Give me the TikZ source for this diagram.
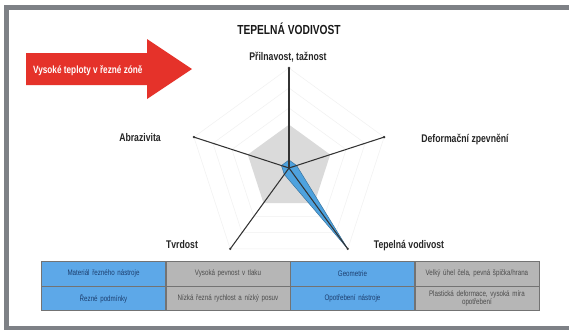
\documentclass[tikz,border=0pt]{standalone}
\usepackage{fontspec}
\setmainfont{Liberation Sans}[FakeStretch=0.78]
\usepackage{tikz}
\usetikzlibrary{calc,positioning}
\definecolor{framegray}{HTML}{7E8186}
\definecolor{arrowred}{HTML}{E5322A}
\definecolor{cellblue}{HTML}{5DA8E8}
\definecolor{cellgray}{HTML}{B6B6B6}
\definecolor{polygray}{HTML}{DADADA}
\definecolor{radarblue}{HTML}{4EA2DE}
\definecolor{celltext}{HTML}{1D3E6E}
\tikzset{
  radar schemes/.style = {
    x = 0.03cm, y = -0.03cm,
    % Popisky os
    axlabel/.style  = {font=\fontsize{9.5}{10}\selectfont\bfseries, text=black!85, inner sep=0pt},
    % Bunky tabulky
    cell/.style     = {draw=black!55, line width=0.4pt, minimum width=3.72cm,
                       minimum height=0.735cm, text width=3.5cm, align=center,
                       inner sep=0pt, font=\fontsize{6.8}{7}\selectfont},
    bcell/.style    = {cell, fill=cellblue, text=celltext},
    gcell/.style    = {cell, fill=cellgray, text=black!70},
    % Cary
    axis line/.style = {line width=0.9pt, black!80},
    grid line/.style = {line width=0.4pt, black!6},
    frame line/.style = {line width=0.15cm, framegray},
  }
}
\begin{document}
\begin{tikzpicture}[radar schemes]
\useasboundingbox (0,0) rectangle (569,329);
\fill[white] (0,0) rectangle (569,329);
\draw[frame line] (569,7.5) -- (6.5,7.5) -- (6.5,328.5) -- (569,328.5);

\node[font=\fontsize{11.2}{12}\selectfont\bfseries, text=black!90] (title) at (289,29) {TEPELNÁ VODIVOST};

%---------------------------------------------
% Sipka
\fill[arrowred] (26,53) -- (147,53) -- (147,39) -- (192,69) -- (147,99) -- (147,85) -- (26,85) -- cycle;
\node[font=\fontsize{9}{10}\selectfont\bfseries, text=white, anchor=west] (hot) at (29,71) {Vysoké teploty v řezné zóně};

%---------------------------------------------
% Paprskovy graf
\coordinate (c) at (289,168);
\foreach \i/\a in {0/90,1/18,2/-54,3/-126,4/162}
   \coordinate (ax-\i) at ($(c)+(\a:3cm)$);

\foreach \r in {0.2,0.4,0.6,0.8,1.0}
   \draw[grid line] ($(c)+(90:\r*3cm)$) -- ($(c)+(18:\r*3cm)$) -- ($(c)+(-54:\r*3cm)$)
        -- ($(c)+(-126:\r*3cm)$) -- ($(c)+(162:\r*3cm)$) -- cycle;

\fill[polygray] ($(c)+(90:1.3cm)$) -- ($(c)+(18:1.3cm)$) -- ($(c)+(-54:1.3cm)$)
     -- ($(c)+(-126:1.3cm)$) -- ($(c)+(162:1.3cm)$) -- cycle;

\filldraw[fill=radarblue, draw=radarblue!70!black, line width=0.4pt]
     ($(c)+(90:0.24cm)$) -- ($(c)+(18:0.24cm)$) -- (ax-2)
     -- ($(c)+(-126:0.24cm)$) -- ($(c)+(162:0.24cm)$) -- cycle;

\foreach \i in {0,...,4} {
   \draw[axis line] (c) -- (ax-\i);
   \fill[black!80] (ax-\i) circle (1.1pt);
 }

\node[axlabel] (l-0) at (288,57)  {Přilnavost, tažnost};
\node[axlabel] (l-1) at (465,139) {Deformační zpevnění};
\node[axlabel] (l-2) at (409,246) {Tepelná vodivost};
\node[axlabel] (l-3) at (182,245) {Tvrdost};
\node[axlabel] (l-4) at (140,138) {Abrazivita};

%---------------------------------------------
% Tabulka
\node[bcell] (t-11) at (103.5,273.5) {Materiál řezného nástroje};
\node[gcell, right=0pt of t-11] (t-12) {Vysoká pevnost v tlaku};
\node[bcell, right=0pt of t-12] (t-13) {Geometrie};
\node[gcell, right=0pt of t-13] (t-14) {Velký úhel čela, pevná špička/hrana};
\node[bcell, below=0pt of t-11] (t-21) {Řezné podmínky};
\node[gcell, right=0pt of t-21] (t-22) {Nízká řezná rychlost a nízký posuv};
\node[bcell, right=0pt of t-22] (t-23) {Opotřebení nástroje};
\node[gcell, right=0pt of t-23] (t-24) {Plastická deformace, vysoká míra\\opotřebení};

\end{tikzpicture}
\end{document}
